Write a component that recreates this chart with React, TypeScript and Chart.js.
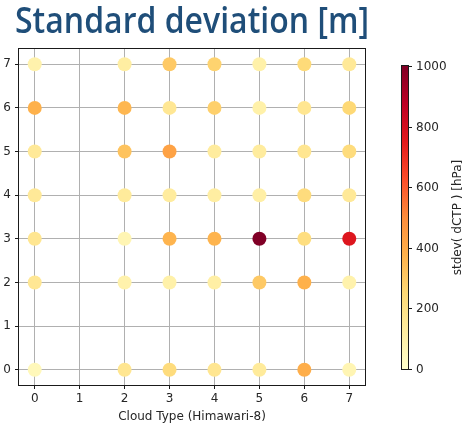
import React, { useEffect, useRef } from "react";
import { Chart, registerables } from "chart.js";

Chart.register(...registerables);

// ---- data ----
const TITLE = "Standard deviation [m]";
const X_LABEL = "Cloud Type (Himawari-8)";
const CBAR_LABEL = "stdev( dCTP ) [hPa]";
const AXIS_TICKS = [0, 1, 2, 3, 4, 5, 6, 7];
const CBAR_TICKS = [0, 200, 400, 600, 800, 1000];
const CBAR_MIN = 0;
const CBAR_MAX = 1000;

// Himawari-8 cloud types that have data (x), rows by y value
const CLOUD_TYPES = [0, 2, 3, 4, 5, 6, 7];
const STDEV_Y7 = [90, 120, 300, 270, 100, 240, 150];
const STDEV_Y6 = [380, 360, 160, 280, 100, 170, 250];
const STDEV_Y5 = [150, 320, 430, 130, 130, 170, 230];
const STDEV_Y4 = [150, 140, 130, 120, 110, 230, 150];
const STDEV_Y3 = [170, 70, 370, 370, 1000, 220, 770];
const STDEV_Y2 = [160, 90, 100, 110, 300, 380, 90];
const STDEV_Y0 = [50, 170, 230, 170, 140, 390, 70];
const ROWS: [number, number[]][] = [
  [7, STDEV_Y7],
  [6, STDEV_Y6],
  [5, STDEV_Y5],
  [4, STDEV_Y4],
  [3, STDEV_Y3],
  [2, STDEV_Y2],
  [0, STDEV_Y0],
];

// ---- colormap (YlOrRd) ----
const YLORRD = ["#ffffcc", "#ffeda0", "#fed976", "#feb24c", "#fd8d3c", "#fc4e2a", "#e31a1c", "#bd0026", "#800026"];
function hexToRgb(h: string) {
  return [parseInt(h.slice(1, 3), 16), parseInt(h.slice(3, 5), 16), parseInt(h.slice(5, 7), 16)];
}
function cmap(v: number) {
  let t = (v - CBAR_MIN) / (CBAR_MAX - CBAR_MIN);
  t = Math.max(0, Math.min(1, t));
  const f = t * (YLORRD.length - 1);
  const i = Math.min(Math.floor(f), YLORRD.length - 2);
  const r = f - i;
  const a = hexToRgb(YLORRD[i]);
  const b = hexToRgb(YLORRD[i + 1]);
  const c = a.map((x, k) => Math.round(x + (b[k] - x) * r));
  return `rgb(${c[0]},${c[1]},${c[2]})`;
}

const FONT = "'DejaVu Sans', sans-serif";
const TEXT = "#262626";

const overlayPlugin = {
  id: "overlay",
  afterDraw(chart: any) {
    const { ctx, chartArea: ca } = chart;
    ctx.save();
    // frame
    ctx.strokeStyle = "#1a1a1a";
    ctx.lineWidth = 1;
    ctx.strokeRect(Math.round(ca.left) - 0.5, Math.round(ca.top) - 0.5, Math.round(ca.right - ca.left) + 1, Math.round(ca.bottom - ca.top) + 1);

    // title (fitted to its width in the reference)
    ctx.save();
    ctx.fillStyle = "#1f4e79";
    ctx.font = "600 36px 'Open Sans', sans-serif";
    ctx.textAlign = "left";
    ctx.textBaseline = "alphabetic";
    const w = ctx.measureText(TITLE).width;
    ctx.translate(15, 33);
    ctx.scale(354 / w, 1);
    ctx.fillText(TITLE, 0, 0);
    ctx.restore();

    // colorbar
    const cbL = 402, cbR = 408, cbT = 66, cbB = 369;
    const g = ctx.createLinearGradient(0, cbB, 0, cbT);
    YLORRD.forEach((c, i) => g.addColorStop(i / (YLORRD.length - 1), c));
    ctx.fillStyle = g;
    ctx.fillRect(cbL, cbT, cbR - cbL, cbB - cbT);
    ctx.strokeStyle = "#1a1a1a";
    ctx.strokeRect(cbL - 0.5, cbT - 0.5, cbR - cbL + 1, cbB - cbT + 1);
    ctx.font = `12px ${FONT}`;
    ctx.fillStyle = TEXT;
    ctx.textAlign = "left";
    ctx.textBaseline = "middle";
    CBAR_TICKS.forEach((v) => {
      const y = Math.round(cbB - ((v - CBAR_MIN) / (CBAR_MAX - CBAR_MIN)) * (cbB - cbT)) + 0.5;
      ctx.beginPath();
      ctx.moveTo(cbR, y);
      ctx.lineTo(cbR + 4, y);
      ctx.stroke();
      ctx.fillText(String(v), cbR + 8, y);
    });
    ctx.save();
    ctx.translate(458, (cbT + cbB) / 2);
    ctx.rotate(-Math.PI / 2);
    ctx.textAlign = "center";
    ctx.textBaseline = "middle";
    ctx.fillText(CBAR_LABEL, 0, 0);
    ctx.restore();
    ctx.restore();
  },
};

export default function App() {
  const ref = useRef<HTMLCanvasElement>(null);
  useEffect(() => {
    const pts: { x: number; y: number; v: number }[] = [];
    ROWS.forEach(([y, vals]) => vals.forEach((v, i) => pts.push({ x: CLOUD_TYPES[i], y, v })));
    const axisCommon = (isX: boolean) => ({
      type: "linear" as const,
      min: -0.35,
      max: 7.35,
      z: 1,
      afterBuildTicks: (s: any) => {
        s.ticks = AXIS_TICKS.map((v) => ({ value: v }));
      },
      afterFit: (s: any) => {
        if (isX) s.height = 43;
        else s.width = 19;
      },
      border: { display: false },
      grid: { color: "#b0b0b0", lineWidth: 1, tickLength: 4, tickColor: "#1a1a1a", drawTicks: true },
      ticks: { font: { family: FONT, size: 12 }, color: TEXT, padding: isX ? 3 : 4, maxRotation: 0, autoSkip: false },
    });
    const chart = new Chart(ref.current!, {
      type: "scatter",
      data: {
        datasets: [
          {
            data: pts.map((p) => ({ x: p.x, y: p.y })),
            pointRadius: 7,
            pointHoverRadius: 7,
            pointBorderWidth: 0,
            pointBackgroundColor: pts.map((p) => cmap(p.v)),
            pointBorderColor: "rgba(0,0,0,0)",
          },
        ],
      },
      options: {
        responsive: false,
        animation: false,
        layout: { padding: { top: 49, right: 99, left: 0, bottom: 0 } },
        plugins: { legend: { display: false }, tooltip: { enabled: false } },
        scales: {
          x: {
            ...axisCommon(true),
            title: { display: true, text: X_LABEL, font: { family: FONT, size: 12 }, color: TEXT, padding: { top: 0, bottom: 4 } },
          },
          y: axisCommon(false),
        },
      },
      plugins: [overlayPlugin],
    } as any);
    return () => chart.destroy();
  }, []);
  return (
    <div style={{ position: "fixed", left: 0, top: 0, width: 464, height: 428, background: "#fff" }}>
      <canvas ref={ref} width={464} height={428} style={{ display: "block" }} />
    </div>
  );
}
